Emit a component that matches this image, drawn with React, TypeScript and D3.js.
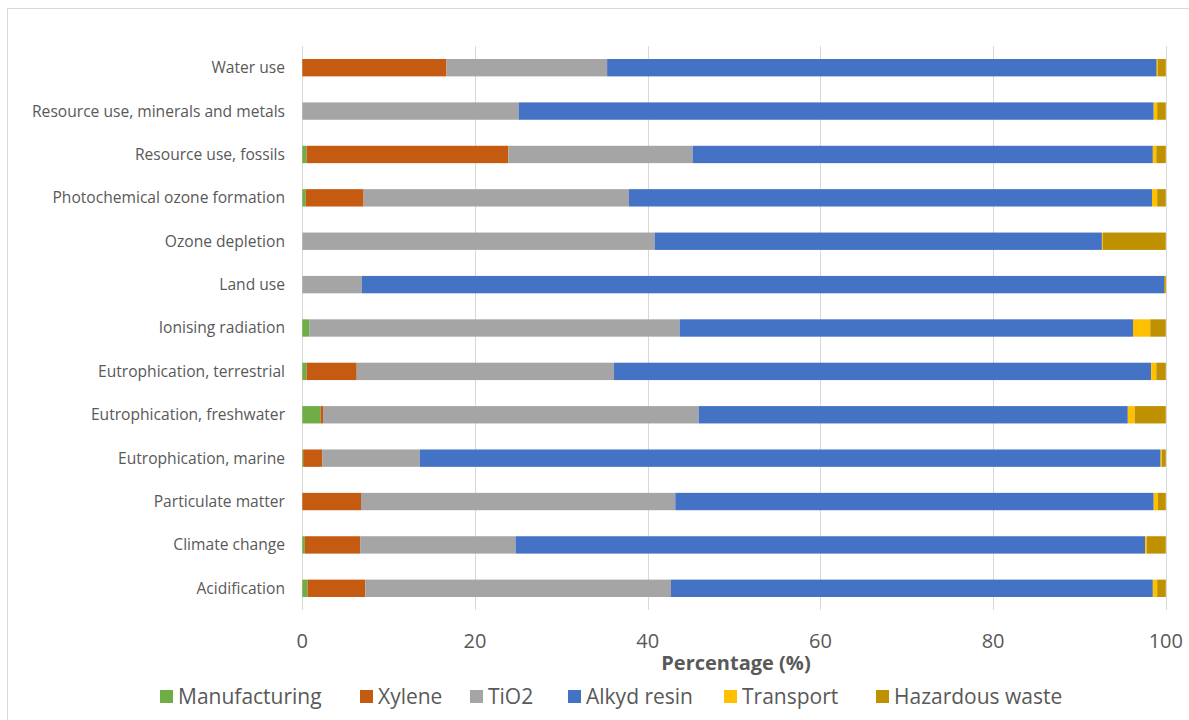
import React from "react";
import * as d3 from "d3";

// Impact categories, top to bottom
const categories = [
  "Water use",
  "Resource use, minerals and metals",
  "Resource use, fossils",
  "Photochemical ozone formation",
  "Ozone depletion",
  "Land use",
  "Ionising radiation",
  "Eutrophication, terrestrial",
  "Eutrophication, freshwater",
  "Eutrophication, marine",
  "Particulate matter",
  "Climate change",
  "Acidification",
];

// Contribution (%) of each life-cycle stage, in category order
const manufacturing = [0, 0, 0.5, 0.4, 0, 0, 0.8, 0.5, 2.1, 0.1, 0, 0.3, 0.6];
const xylene = [16.7, 0, 23.35, 6.7, 0, 0, 0, 5.8, 0.3, 2.2, 6.8, 6.4, 6.7];
const tio2 = [18.6, 25.05, 21.35, 30.7, 40.8, 6.9, 42.9, 29.8, 43.5, 11.3, 36.4, 18.0, 35.4];
const alkydResin = [63.65, 73.55, 53.3, 60.6, 51.8, 92.9, 52.5, 62.2, 49.7, 85.8, 55.4, 72.9, 55.8];
const transport = [0.15, 0.4, 0.4, 0.6, 0.1, 0, 2.0, 0.6, 0.8, 0.15, 0.5, 0.2, 0.5];
const hazardousWaste = [0.9, 1.0, 1.1, 1.0, 7.3, 0.2, 1.8, 1.1, 3.6, 0.45, 0.9, 2.2, 1.0];

const seriesNames = ["Manufacturing", "Xylene", "TiO2", "Alkyd resin", "Transport", "Hazardous waste"];
const seriesValues = [manufacturing, xylene, tio2, alkydResin, transport, hazardousWaste];
const seriesColors = ["#70AD47", "#C55A11", "#A5A5A5", "#4472C4", "#FFC000", "#BF9000"];

const xTicks = [0, 20, 40, 60, 80, 100];

const WIDTH = 1189;
const HEIGHT = 720;
const FONT = "'Open Sans', 'Segoe UI', sans-serif";
const TEXT = "#595959";

export default function App() {
  const x = d3.scaleLinear().domain([0, 100]).range([302.3, 1165.8]);
  const y = d3
    .scaleBand<string>()
    .domain(categories)
    .range([46, 610])
    .paddingInner(0.6)
    .paddingOuter(0.3);

  const rows = categories.map((c, i) => {
    const row: Record<string, number | string> = { category: c };
    seriesNames.forEach((s, k) => (row[s] = seriesValues[k][i]));
    return row;
  });
  const stacked = d3.stack<Record<string, number | string>>().keys(seriesNames)(rows as any);

  const legendX = [160, 360, 470, 568, 724, 876];

  return (
    <svg
      width={WIDTH}
      height={HEIGHT}
      style={{ position: "absolute", left: 0, top: 0, background: "#fff" }}
      fontFamily={FONT}
    >
      <rect x={7.5} y={8.5} width={WIDTH + 20} height={HEIGHT + 20} fill="#fff" stroke="#d9d9d9" />

      {/* vertical gridlines */}
      {xTicks.map((t) => (
        <line
          key={t}
          x1={Math.round(x(t)) + 0.5}
          x2={Math.round(x(t)) + 0.5}
          y1={46}
          y2={610}
          stroke="#d9d9d9"
          strokeWidth={1}
        />
      ))}

      {/* stacked bars */}
      {stacked.map((layer, k) =>
        layer.map((d, i) => {
          const w = x(d[1]) - x(d[0]);
          if (w <= 0) return null;
          return (
            <rect
              key={`${k}-${i}`}
              x={x(d[0])}
              y={y(categories[i])!}
              width={w}
              height={y.bandwidth()}
              fill={seriesColors[k]}
            />
          );
        })
      )}

      {/* category labels */}
      {categories.map((c) => (
        <text
          key={c}
          x={285}
          y={y(c)! + y.bandwidth() / 2}
          dy="0.35em"
          textAnchor="end"
          fontSize={15.6}
          fill={TEXT}
        >
          {c}
        </text>
      ))}

      {/* x tick labels */}
      {xTicks.map((t) => (
        <text key={t} x={x(t)} y={648} textAnchor="middle" fontSize={20} fill={TEXT}>
          {t}
        </text>
      ))}

      <text x={736} y={670} textAnchor="middle" fontSize={20} fontWeight="bold" fill={TEXT}>
        Percentage (%)
      </text>

      {/* legend */}
      {seriesNames.map((s, k) => (
        <g key={s} transform={`translate(${legendX[k]},0)`}>
          <rect x={0} y={690} width={13} height={13} fill={seriesColors[k]} />
          <text x={18} y={704} fontSize={21} fill={TEXT}>
            {s}
          </text>
        </g>
      ))}
    </svg>
  );
}
